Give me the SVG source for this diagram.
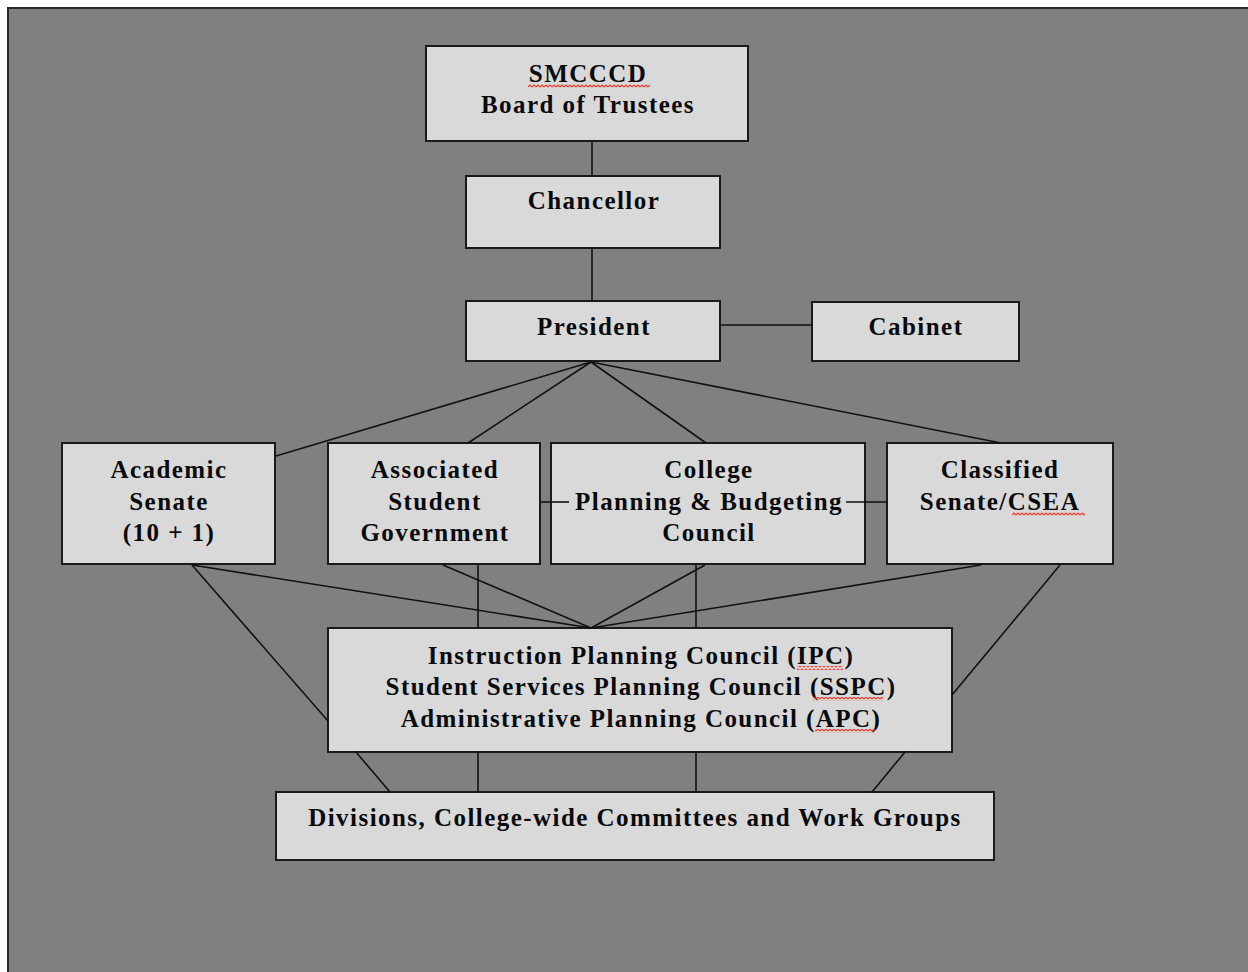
<svg xmlns="http://www.w3.org/2000/svg" width="1248" height="972" viewBox="0 0 1248 972">
<defs>
<style>
.bg{fill:#808080;stroke:#2a2a2a;stroke-width:2}
.box{fill:#d9d9d9;stroke:#1a1a1a;stroke-width:2}
.t{font-family:"Liberation Serif","Times New Roman",serif;font-weight:bold;font-size:25px;letter-spacing:1.45px;fill:#0a0a0a;text-anchor:middle}
.c{stroke:#111;stroke-width:1.6;fill:none}
.sq{fill:url(#squig)}
</style>
<pattern id="squig" x="0" y="0" width="4" height="4" patternUnits="userSpaceOnUse">
<path d="M0,3 L2,1 L4,3" fill="none" stroke="#f03a30" stroke-width="1.2"/>
</pattern>
</defs>
<rect x="0" y="0" width="1248" height="972" fill="#ffffff"/>
<rect class="bg" x="8" y="8" width="1260" height="980"/>

<g id="board">
<rect class="box" x="426" y="46" width="322" height="95"/>
<text class="t" x="588" y="82">SMCCCD</text>
<text class="t" x="588" y="113">Board of Trustees</text>
<rect class="sq" x="528" y="84" width="122" height="4"/>
</g>
<g id="chancellor">
<rect class="box" x="466" y="176" width="254" height="72"/>
<text class="t" x="594" y="209">Chancellor</text>
</g>
<g id="president">
<rect class="box" x="466" y="301" width="254" height="60"/>
<text class="t" x="594" y="335">President</text>
</g>
<g id="cabinet">
<rect class="box" x="812" y="302" width="207" height="59"/>
<text class="t" x="916" y="335">Cabinet</text>
</g>
<g id="academic">
<rect class="box" x="62" y="443" width="213" height="121"/>
<text class="t" x="169" y="478">Academic</text>
<text class="t" x="169" y="510">Senate</text>
<text class="t" x="169" y="541">(10 + 1)</text>
</g>
<g id="asg">
<rect class="box" x="328" y="443" width="212" height="121"/>
<text class="t" x="435" y="478">Associated</text>
<text class="t" x="435" y="510">Student</text>
<text class="t" x="435" y="541">Government</text>
</g>
<g id="cpbc">
<rect class="box" x="551" y="443" width="314" height="121"/>
<text class="t" x="709" y="478">College</text>
<text class="t" x="709" y="510">Planning &amp; Budgeting</text>
<text class="t" x="709" y="541">Council</text>
</g>
<g id="classified">
<rect class="box" x="887" y="443" width="226" height="121"/>
<text class="t" x="1000" y="478">Classified</text>
<text class="t" x="1000" y="510">Senate/CSEA</text>
<rect class="sq" x="1012" y="512" width="73" height="4"/>
</g>
<g id="councils">
<rect class="box" x="328" y="628" width="624" height="124"/>
<text class="t" x="641" y="664">Instruction Planning Council (IPC)</text>
<text class="t" x="641" y="695">Student Services Planning Council (SSPC)</text>
<text class="t" x="641" y="727">Administrative Planning Council (APC)</text>
<rect class="sq" x="797" y="666" width="46" height="4"/>
<rect class="sq" x="813" y="697" width="70" height="4"/>
<rect class="sq" x="815" y="729" width="60" height="4"/>
</g>
<g id="divisions">
<rect class="box" x="276" y="792" width="718" height="68"/>
<text class="t" x="635" y="826">Divisions, College-wide Committees and Work Groups</text>
</g>

<g id="connectors">
<path class="c" d="M592,142 V176"/>
<path class="c" d="M592,248 V301"/>
<path class="c" d="M721,325 H812"/>
<path class="c" d="M591,362 L276,456"/>
<path class="c" d="M591,362 L468,443"/>
<path class="c" d="M591,362 L706,443"/>
<path class="c" d="M591,362 L1001,443"/>
<path class="c" d="M541,502 H569"/>
<path class="c" d="M846,502 H887"/>
<path class="c" d="M192,565 L591,628"/>
<path class="c" d="M443,565 L591,628"/>
<path class="c" d="M705,565 L591,628"/>
<path class="c" d="M981,565 L591,628"/>
<path class="c" d="M192,565 L328,721"/>
<path class="c" d="M356,752 L390,792"/>
<path class="c" d="M478,565 V628"/>
<path class="c" d="M478,752 V792"/>
<path class="c" d="M696,565 V628"/>
<path class="c" d="M696,752 V792"/>
<path class="c" d="M1060,565 L952,695"/>
<path class="c" d="M905,752 L872,792"/>
</g>
</svg>
